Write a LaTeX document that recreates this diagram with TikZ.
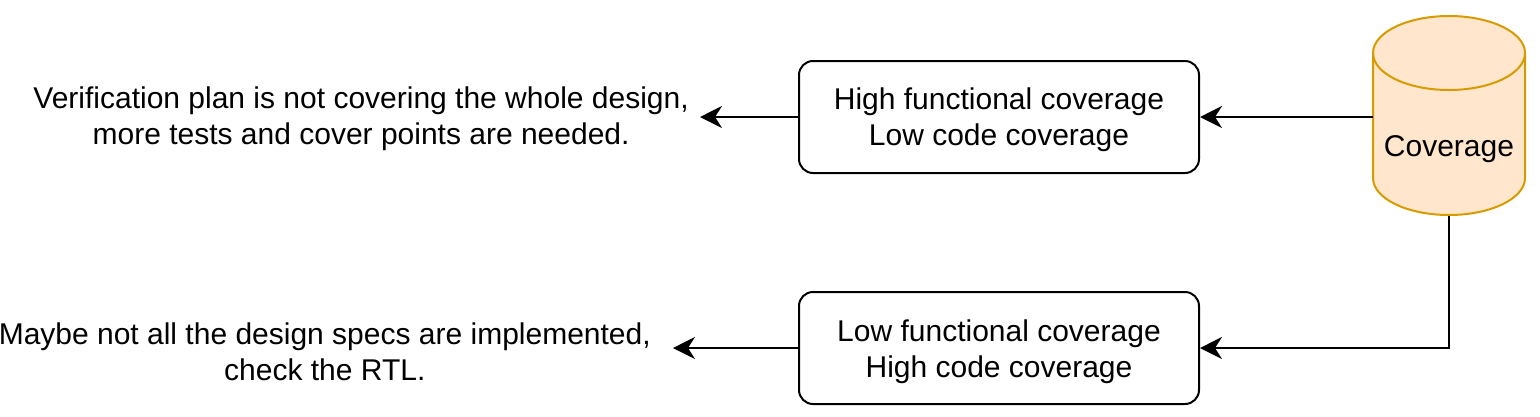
\documentclass[tikz,border=0pt]{standalone}
\usepackage{fontspec}
\setmainfont{Liberation Sans}
\usetikzlibrary{arrows.meta}
\definecolor{cylfill}{HTML}{FFE6CC}
\definecolor{cylline}{HTML}{D79B00}
\tikzset{
  box/.style={draw=black, line width=2pt, rounded corners=14pt, minimum width=400pt, minimum height=112pt, fill=white},
  txt/.style={align=center, inner sep=0pt, font=\fontsize{30}{36}\selectfont},
  conn/.style={line width=2pt, -{Stealth[length=22pt,width=22pt,inset=7pt]}},
}
\begin{document}
\begin{tikzpicture}[x=1pt,y=-1pt]
\useasboundingbox (0,0) rectangle (1540,416);
% cylinder
\filldraw[fill=cylfill, draw=cylline, line width=2pt]
  (1373,53) -- (1373,178) arc[start angle=180,end angle=360,x radius=76,y radius=-37] -- (1525,53)
  arc[start angle=0,end angle=180,x radius=76,y radius=-37] -- cycle;
\draw[draw=cylline, line width=2pt] (1373,53) arc[start angle=180,end angle=360,x radius=76,y radius=-37];
\node[txt, anchor=center] (cyl) at (1449,149) {Coverage};
\coordinate (cylL) at (1373,117);
\coordinate (cylB) at (1449,216);
\coordinate (bend) at (1449,348);
\node[box] (hf) at (999,117) {};
\node[txt] (hft) at (999,120) {High functional coverage\\Low code coverage};
\node[box] (lf) at (999,348) {};
\node[txt] (lft) at (999,352) {Low functional coverage\\High code coverage};
\node[txt, anchor=east] (t1) at (689,119) {Verification plan is not covering the whole design,\\more tests and cover points are needed.};
\node[txt, anchor=east] (t2) at (651,352) {Maybe not all the design specs are implemented,\\check the RTL.};
\coordinate (tip1) at (700,117);
\coordinate (tip2) at (673,348);
\draw[conn] (cylL) -- (hf.east);
\draw[conn] (cylB) -- (bend) -- (lf.east);
\draw[conn] (hf.west) -- (tip1);
\draw[conn] (lf.west) -- (tip2);
\end{tikzpicture}
\end{document}
